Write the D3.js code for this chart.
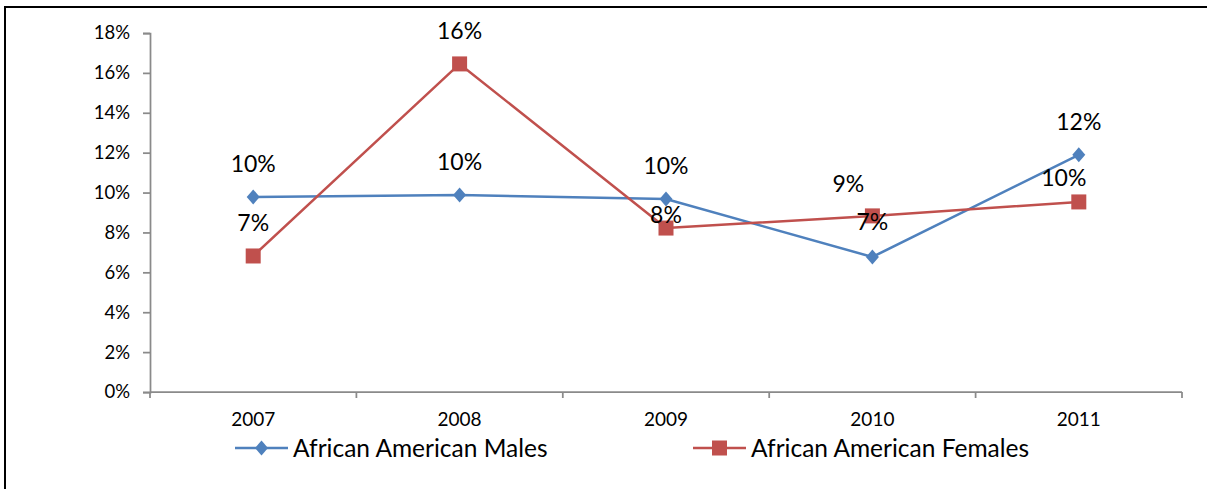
<!DOCTYPE html>
<html>
<head>
<meta charset="utf-8">
<script src="https://cdn.jsdelivr.net/npm/d3@7"></script>
<style>
  html, body { margin: 0; padding: 0; background: #fff; }
  svg { display: block; }
  text { font-family: Lato, "Open Sans", sans-serif; fill: #000; }
</style>
</head>
<body>
<svg id="chart" width="1207" height="489"></svg>
<script>
// Categories and series values (shares, 0–1)
const years = ["2007", "2008", "2009", "2010", "2011"];
const maleValues = [0.0978, 0.0988, 0.0968, 0.0677, 0.1189];
const femaleValues = [0.0682, 0.1645, 0.0822, 0.0883, 0.0953];
const seriesNames = ["African American Males", "African American Females"];
const yTickValues = [0, 0.02, 0.04, 0.06, 0.08, 0.10, 0.12, 0.14, 0.16, 0.18];

const svg = d3.select("#chart");
const W = 1207, H = 489;

// Plot area
const plot = { left: 150, right: 1182, top: 33, bottom: 392 };

const x = d3.scaleBand().domain(years).range([plot.left, plot.right]).padding(0);
const y = d3.scaleLinear().domain([0, 0.18]).range([plot.bottom, plot.top]);
const pct = d3.format(".0%");

const axisColor = "#8a8a8a";

// Outer chart frame (left and top edges visible)
svg.append("rect")
  .attr("x", 5).attr("y", 7)
  .attr("width", W + 10).attr("height", H + 10)
  .attr("fill", "none").attr("stroke", "#000").attr("stroke-width", 2);

// Y axis
const yAxis = d3.axisLeft(y).tickValues(yTickValues).tickFormat(pct).tickSize(7).tickPadding(13);
const gy = svg.append("g").attr("transform", `translate(${plot.left},0)`).call(yAxis);
gy.select(".domain").attr("stroke", axisColor).attr("stroke-width", 1.75);
gy.selectAll(".tick line").attr("stroke", axisColor).attr("stroke-width", 1.75);
gy.selectAll(".tick text").style("font-size", "18.5px").attr("fill", "#000");

// X axis: ticks on category boundaries
const gx = svg.append("g").attr("transform", `translate(0,${plot.bottom})`);
gx.append("line")
  .attr("x1", plot.left).attr("x2", plot.right)
  .attr("y1", 0).attr("y2", 0)
  .attr("stroke", axisColor).attr("stroke-width", 1.75);
const boundaries = years.map(d => x(d)).concat([x(years[years.length - 1]) + x.bandwidth()]);
gx.selectAll("line.tick")
  .data(boundaries)
  .join("line")
  .attr("class", "tick")
  .attr("x1", d => d).attr("x2", d => d)
  .attr("y1", 0).attr("y2", 6)
  .attr("stroke", axisColor).attr("stroke-width", 1.75);
gx.selectAll("text")
  .data(years)
  .join("text")
  .attr("x", d => x(d) + x.bandwidth() / 2)
  .attr("y", 34)
  .attr("text-anchor", "middle")
  .style("font-size", "19px")
  .text(d => d);

const cx = d => x(d) + x.bandwidth() / 2;

const series = [
  { name: seriesNames[0], values: maleValues, color: "#4F81BD", marker: "diamond" },
  { name: seriesNames[1], values: femaleValues, color: "#C0504D", marker: "square" }
];

// Per-label nudges so overlapping labels stay readable
const labelNudge = {
  "African American Females|2009": { dx: 0, dy: 20 },
  "African American Females|2010": { dx: -24, dy: 1 },
  "African American Females|2011": { dx: -15, dy: 9 },
  "African American Males|2010": { dx: 0, dy: -2 }
};

function drawMarker(g, kind, color) {
  if (kind === "diamond") {
    g.append("path").attr("d", "M0,-7.5L6.5,0L0,7.5L-6.5,0Z").attr("fill", color);
  } else {
    g.append("rect").attr("x", -7.5).attr("y", -7.5).attr("width", 15).attr("height", 15).attr("fill", color);
  }
}

const line = d3.line().x(d => cx(d.year)).y(d => y(d.value));

series.forEach(s => {
  const pts = years.map((yr, i) => ({ year: yr, value: s.values[i] }));
  svg.append("path")
    .datum(pts)
    .attr("d", line)
    .attr("fill", "none")
    .attr("stroke", s.color)
    .attr("stroke-width", 2.5)
    .attr("stroke-linejoin", "round");
  pts.forEach(p => {
    const g = svg.append("g").attr("transform", `translate(${cx(p.year)},${y(p.value)})`);
    drawMarker(g, s.marker, s.color);
  });
});

// Data labels
series.forEach(s => {
  years.forEach((yr, i) => {
    const v = s.values[i];
    const n = labelNudge[s.name + "|" + yr] || { dx: 0, dy: 0 };
    svg.append("text")
      .attr("x", cx(yr) + n.dx)
      .attr("y", y(v) - 33 + n.dy)
      .attr("dy", "0.36em")
      .attr("text-anchor", "middle")
      .style("font-size", "23px")
      .text(pct(v));
  });
});

// Legend
const legendY = 448;
const legendItems = [
  { s: series[0], x0: 235 },
  { s: series[1], x0: 693 }
];
legendItems.forEach(({ s, x0 }) => {
  const g = svg.append("g").attr("transform", `translate(${x0},${legendY})`);
  g.append("line").attr("x1", 0).attr("x2", 53).attr("y1", 0).attr("y2", 0)
    .attr("stroke", s.color).attr("stroke-width", 2.5);
  const m = g.append("g").attr("transform", "translate(26.5,0)");
  drawMarker(m, s.marker, s.color);
  g.append("text")
    .attr("x", 58).attr("y", 0).attr("dy", "0.36em")
    .style("font-size", "24.5px")
    .text(s.name);
});
</script>
</body>
</html>
